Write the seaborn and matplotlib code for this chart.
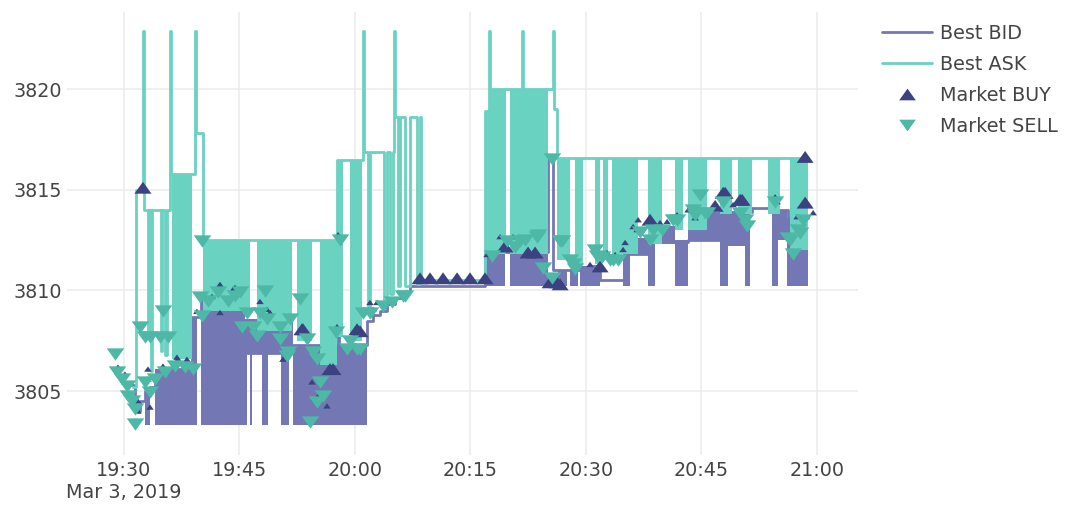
import numpy as np
import pandas as pd
import matplotlib.pyplot as plt
from matplotlib.path import Path
from matplotlib.lines import Line2D
import seaborn as sns

# all times are minutes after 19:00 on Mar 3, 2019
# best ask: step path
ask_min = [31.17, 31.56, 32.47, 32.6, 33.12, 33.25, 33.51, 33.7, 34.81, 35.0, 35.33, 35.58,
           36.04, 36.17, 39.22, 39.35, 40.26, 57.67, 61.05, 61.18, 61.7, 61.95, 63.77, 64.16,
           64.55, 64.94, 65.07, 65.2, 65.59, 65.85, 66.5, 67.15, 68.06, 68.45, 68.58, 76.89,
           77.41, 77.54, 81.7, 81.83, 85.73, 85.86, 86.25, 118.85]
ask_px = [3805.2, 3815.0, 3822.9, 3814.0, 3808.0, 3814.0, 3806.0, 3814.0, 3807.0, 3814.0, 3806.8, 3814.0,
          3822.9, 3815.8, 3822.9, 3817.8, 3812.5, 3816.5, 3822.9, 3816.9, 3809.0, 3816.9, 3809.3, 3816.9,
          3809.8, 3816.9, 3822.9, 3818.6, 3810.2, 3818.6, 3810.2, 3818.6, 3810.3, 3818.6, 3810.5, 3818.9,
          3822.9, 3820.0, 3822.9, 3820.0, 3822.9, 3819.0, 3816.6, 3816.6]
# best ask: stretches where it flickers too fast to separate (start, end, low, high)
ask_band_start = [36.24, 40.26, 47.28, 52.47, 55.46, 57.67, 59.36, 76.89, 77.54, 80.14, 86.25,
                  88.59, 91.18, 92.22, 93.39, 98.06, 101.57, 103.26, 107.42, 109.76, 113.65, 116.51]
ask_band_end = [38.83, 46.37, 51.82, 54.42, 57.67, 58.45, 60.92, 77.54, 79.62, 85.08, 87.94,
                89.63, 91.83, 92.87, 96.77, 99.88, 102.61, 105.73, 108.97, 111.58, 115.21, 118.85]
ask_band_low = [3806.6, 3809.0, 3808.0, 3807.5, 3806.3, 3807.7, 3807.5, 3811.8, 3811.8, 3811.8, 3811.5,
                3811.3, 3811.3, 3811.5, 3811.8, 3812.3, 3813.0, 3813.0, 3813.8, 3813.8, 3813.8, 3812.0]
ask_band_high = [3815.8, 3812.5, 3812.5, 3812.5, 3812.5, 3816.5, 3816.5, 3818.9, 3820.0, 3820.0, 3816.6,
                 3816.6, 3816.6, 3816.6, 3816.6, 3816.6, 3816.6, 3816.6, 3816.6, 3816.6, 3816.6, 3816.6]

# best bid
bid_min = [30.5, 31.43, 32.08, 32.73, 33.38, 34.03, 36.0, 38.83, 40.0, 44.68, 51.95, 57.8, 57.93,
           61.57, 62.35, 63.25, 64.16, 65.2, 66.11, 67.15, 76.89, 85.08, 85.73, 90.53, 91.83,
           95.08, 98.06, 103.26, 107.42, 111.58, 114.17, 116.25, 118.85]
bid_px = [3805.3, 3804.0, 3804.5, 3805.0, 3805.2, 3805.8, 3806.1, 3808.7, 3809.5, 3806.9, 3807.3, 3812.6, 3807.3,
          3808.5, 3808.8, 3809.0, 3809.3, 3809.6, 3809.9, 3810.2, 3811.9, 3816.6, 3811.0, 3811.2, 3810.5,
          3811.8, 3812.4, 3812.5, 3813.9, 3814.1, 3814.0, 3813.6, 3813.6]
bid_band_start = [32.73, 34.03, 38.83, 40.0, 44.68, 45.46, 46.37, 47.93, 50.39, 51.95, 76.89, 80.14, 86.38, 87.94,
                  89.24, 94.82, 95.73, 98.06, 98.97, 101.57, 103.26, 107.42, 108.46, 110.67, 114.17, 114.95, 116.12]
bid_band_end = [33.38, 38.83, 39.48, 45.72, 51.95, 45.98, 46.63, 48.71, 51.43, 61.57, 79.49, 85.08, 87.55, 88.98,
                91.83, 95.73, 98.06, 98.97, 101.57, 103.26, 107.42, 108.46, 110.67, 111.32, 114.95, 116.12, 118.85]
bid_band_low = [3803.3, 3803.3, 3803.3, 3803.3, 3806.9, 3803.3, 3803.3, 3803.3, 3803.3, 3803.3, 3810.2, 3810.2, 3810.2, 3810.2,
                3810.2, 3810.2, 3811.8, 3810.2, 3812.3, 3810.2, 3812.5, 3810.2, 3812.2, 3810.2, 3810.2, 3812.5, 3810.2]
bid_band_high = [3805.0, 3806.1, 3808.7, 3809.5, 3808.6, 3806.9, 3806.9, 3806.9, 3806.9, 3807.3, 3811.9, 3811.9, 3811.0, 3811.0,
                 3811.2, 3811.8, 3812.6, 3812.4, 3813.2, 3812.5, 3813.9, 3813.9, 3813.9, 3813.9, 3814.1, 3814.0, 3813.6]

# market orders
buy_min = [29.22, 30.13, 31.82, 31.82, 32.47, 33.12, 33.12, 33.38, 35.07, 36.88, 37.01, 38.18, 39.48, 41.43,
           42.47, 42.47, 44.16, 44.42, 47.67, 48.58, 48.97, 50.65, 53.12, 53.25, 54.42, 55.2, 56.37, 56.76,
           57.15, 57.67, 57.8, 60.27, 60.66, 61.95, 62.34, 62.86, 64.55, 66.76, 68.45, 69.75, 71.44, 73.26,
           74.94, 76.89, 77.15, 78.84, 79.49, 80.53, 82.48, 83.39, 83.64, 85.34, 86.25, 86.64, 90.53, 91.83,
           92.74, 93.78, 94.82, 95.08, 96.12, 96.64, 96.77, 98.32, 99.62, 100.53, 101.83, 103.26, 104.17,
           106.77, 107.81, 108.07, 109.11, 110.02, 110.28, 114.56, 114.82, 117.42, 118.46, 118.46, 119.5]
buy_px = [3806.19, 3805.84, 3804.5, 3804.0, 3815.1, 3805.6, 3806.09, 3804.2, 3806.24, 3806.68, 3806.58, 3806.58,
          3808.96, 3809.7, 3810.3, 3808.9, 3810.05, 3810.15, 3809.45, 3809.06, 3808.9, 3806.58, 3808.07, 3808.07,
          3805.45, 3804.75, 3804.26, 3806.09, 3806.09, 3808.2, 3812.77, 3808.07, 3807.97, 3809.4, 3809.06, 3809.4,
          3809.4, 3809.9, 3810.6, 3810.6, 3810.6, 3810.6, 3810.6, 3810.6, 3811.78, 3812.67, 3812.18, 3812.67,
          3811.88, 3811.88, 3812.87, 3810.4, 3810.4, 3810.3, 3811.29, 3811.19, 3811.88, 3811.78, 3812.03, 3812.38,
          3813.17, 3813.02, 3813.51, 3813.51, 3813.37, 3813.42, 3813.76, 3814.0, 3813.61, 3814.2, 3814.85, 3814.85,
          3814.26, 3814.5, 3814.5, 3814.65, 3814.41, 3813.66, 3816.63, 3814.36, 3813.86]
buy_qty = [1, 1, 1, 1, 2, 1, 1, 1, 1, 1, 1, 1, 1, 1, 1, 1, 1, 1, 1, 1, 1, 1, 2, 2, 1, 1, 1, 2,
           2, 1, 1, 2, 2, 1, 1, 1, 1, 1, 2, 2, 2, 2, 2, 2, 1, 1, 2, 1, 2, 2, 1, 2, 2, 2, 1, 2,
           1, 1, 1, 1, 1, 1, 1, 2, 1, 1, 1, 1, 1, 2, 2, 2, 1, 2, 2, 1, 1, 1, 2, 2, 1]
sell_min = [28.83, 29.09, 29.74, 30.39, 30.52, 31.04, 31.43, 31.43, 32.08, 32.73, 32.73, 33.38, 33.38, 34.03,
            34.68, 35.07, 35.33, 35.72, 36.62, 37.92, 38.96, 39.87, 40.13, 40.13, 40.91, 42.21, 43.51, 44.42,
            45.07, 45.33, 45.98, 46.76, 47.28, 47.67, 48.32, 48.58, 50.26, 50.26, 51.17, 51.3, 51.56, 52.86,
            53.77, 54.16, 54.55, 55.07, 55.07, 55.46, 55.85, 57.54, 58.06, 58.97, 59.36, 60.27, 60.66, 61.05,
            61.95, 63.64, 64.81, 66.24, 66.5, 77.8, 79.75, 80.79, 81.44, 82.09, 83.64, 83.78, 84.43, 85.6,
            85.6, 86.64, 86.9, 87.94, 88.33, 88.59, 91.18, 91.44, 92.09, 93.13, 93.52, 94.17, 97.02, 98.32,
            98.71, 99.88, 101.31, 101.83, 103.91, 104.17, 104.82, 105.47, 105.73, 107.81, 110.02, 110.67,
            110.93, 114.56, 116.25, 116.51, 116.9, 117.55, 117.81, 118.2]
sell_px = [3806.83, 3805.94, 3805.6, 3805.25, 3804.75, 3804.5, 3804.1, 3803.37, 3808.2, 3807.67, 3805.45, 3807.67,
           3804.95, 3805.6, 3807.67, 3808.96, 3805.94, 3807.67, 3806.24, 3806.19, 3806.09, 3809.65, 3812.43, 3808.71,
           3809.45, 3809.9, 3809.45, 3809.7, 3809.9, 3808.2, 3808.9, 3808.2, 3807.72, 3808.9, 3809.95, 3808.56,
           3808.2, 3807.57, 3806.73, 3806.93, 3808.56, 3809.55, 3807.57, 3803.47, 3806.93, 3806.58, 3804.46, 3805.45,
           3804.75, 3807.92, 3812.52, 3807.08, 3807.48, 3807.08, 3807.08, 3808.9, 3808.9, 3809.2, 3809.4, 3809.7,
           3809.7, 3811.7, 3812.43, 3812.18, 3812.43, 3812.52, 3812.67, 3812.77, 3811.1, 3810.6, 3816.55, 3812.43,
           3812.43, 3811.53, 3811.3, 3811.04, 3812.03, 3811.7, 3811.68, 3811.53, 3811.53, 3811.53, 3812.9, 3812.52,
           3813.02, 3813.02, 3813.51, 3813.51, 3814.0, 3813.76, 3814.75, 3813.86, 3813.86, 3814.4, 3813.86, 3813.5,
           3813.2, 3814.41, 3812.62, 3812.52, 3811.8, 3813.02, 3812.87, 3813.51]

tick_min = [30, 45, 60, 75, 90, 105, 120]
tick_labels = ['19:30\nMar 3, 2019', '19:45', '20:00', '20:15', '20:30', '20:45', '21:00']
y_ticks = [3805, 3810, 3815, 3820]

base = pd.Timestamp('2019-03-03 19:00')


def to_time(m):
    return base + pd.to_timedelta(np.asarray(m, dtype=float), unit='m')


sns.set_style('white')
plt.rcParams['font.family'] = ['DejaVu Sans']

bid_col = '#7378b4'
ask_col = '#69d2c1'
buy_col = '#3c4182'
sell_col = '#4cb8a5'
line_w = 2.0

tri_up = Path([(-1, -0.7), (1, -0.7), (0, 0.7), (-1, -0.7)],
              [Path.MOVETO, Path.LINETO, Path.LINETO, Path.CLOSEPOLY])
tri_down = Path([(-1, 0.7), (1, 0.7), (0, -0.7), (-1, 0.7)],
                [Path.MOVETO, Path.LINETO, Path.LINETO, Path.CLOSEPOLY])

fig = plt.figure(figsize=(10.73, 5.08), dpi=100)
ax = fig.add_axes([0.0624, 0.1043, 0.7372, 0.8720])

# bid
for t0, t1, lo, hi in zip(bid_band_start, bid_band_end, bid_band_low, bid_band_high):
    ax.fill_between(to_time([t0, t1]), lo, hi, color=bid_col, lw=0, zorder=2)
sns.lineplot(x=to_time(bid_min), y=bid_px, drawstyle='steps-post', color=bid_col, lw=line_w,
             sort=False, estimator=None, ax=ax, zorder=2)

# ask
for t0, t1, lo, hi in zip(ask_band_start, ask_band_end, ask_band_low, ask_band_high):
    ax.fill_between(to_time([t0, t1]), lo, hi, color=ask_col, lw=0, zorder=3)
sns.lineplot(x=to_time(ask_min), y=ask_px, drawstyle='steps-post', color=ask_col, lw=line_w,
             sort=False, estimator=None, ax=ax, zorder=3)

# market orders
sns.scatterplot(x=to_time(buy_min), y=buy_px, size=buy_qty, sizes={1: 30, 2: 150}, marker=tri_up,
                color=buy_col, linewidth=0, legend=False, ax=ax, zorder=4)
sns.scatterplot(x=to_time(sell_min), y=sell_px, s=160, marker=tri_down,
                color=sell_col, linewidth=0, legend=False, ax=ax, zorder=5)

ax.set_xlim(to_time([22.6])[0], to_time([125.32])[0])
ax.set_ylim(3801.82, 3823.83)
ax.set_xticks(to_time(tick_min))
ax.set_xticklabels(tick_labels)
ax.set_yticks(y_ticks)
ax.set_xlabel('')
ax.set_ylabel('')
ax.grid(True, color='#ebebeb', lw=1.1)
ax.set_axisbelow(True)
sns.despine(ax=ax, left=True, bottom=True)
ax.tick_params(axis='both', length=0, labelsize=13.8, labelcolor='#444444')
ax.tick_params(axis='x', pad=4.5)
ax.tick_params(axis='y', pad=3.6)

handles = [Line2D([], [], color=bid_col, lw=line_w),
           Line2D([], [], color=ask_col, lw=line_w),
           Line2D([], [], ls='none', marker=tri_up, ms=12, color=buy_col, mew=0),
           Line2D([], [], ls='none', marker=tri_down, ms=12, color=sell_col, mew=0)]
fig.legend(handles, ['Best BID', 'Best ASK', 'Market BUY', 'Market SELL'],
           loc='upper left', bbox_to_anchor=(882 / 1073, 1 - 24 / 508), frameon=False,
           fontsize=13.8, labelcolor='#444444', handlelength=2.6, handletextpad=0.45,
           labelspacing=0.62, borderpad=0, borderaxespad=0)

fig.savefig('out.png', dpi=100)
